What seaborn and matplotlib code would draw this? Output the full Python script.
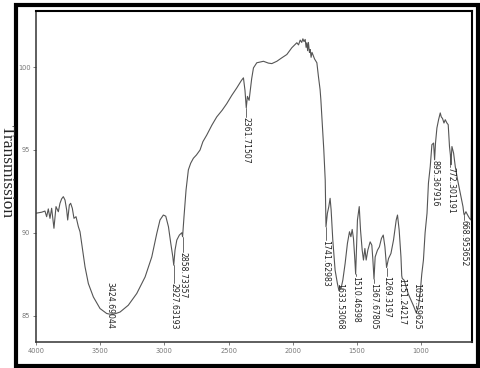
import pandas as pd
import seaborn as sns
import matplotlib.pyplot as plt
from matplotlib.patches import Rectangle

# FTIR spectrum (wavenumber, % transmission)
wavenumber = [
    4000, 3956, 3930, 3917, 3904, 3891, 3878, 3860, 3844, 3826, 3813, 3800, 3787,
    3774, 3761, 3753, 3740, 3730, 3717, 3704, 3688, 3670, 3657, 3644, 3618, 3592,
    3553, 3501, 3449, 3424, 3397, 3345, 3281, 3215, 3150, 3098, 3059, 3034, 3008,
    2989, 2968, 2950, 2934, 2927, 2917, 2903, 2883, 2864, 2858, 2847, 2831, 2813,
    2795, 2774, 2750, 2722, 2700, 2670, 2630, 2592, 2550, 2514, 2475, 2436, 2400,
    2384, 2372, 2362, 2353, 2340, 2320, 2306, 2280, 2228, 2190, 2163, 2124, 2098,
    2085, 2046, 2007, 1968, 1955, 1942, 1930, 1921, 1912, 1903, 1896, 1890, 1884,
    1878, 1870, 1864, 1857, 1850, 1839, 1830, 1812, 1800, 1787, 1781, 1770, 1758,
    1747, 1741, 1730, 1719, 1709, 1701, 1688, 1670, 1652, 1640, 1633, 1625, 1610,
    1592, 1574, 1558, 1547, 1537, 1527, 1518, 1510, 1496, 1482, 1472, 1459, 1449,
    1438, 1428, 1415, 1397, 1384, 1376, 1367, 1358, 1340, 1325, 1309, 1295, 1282,
    1269, 1254, 1235, 1215, 1194, 1184, 1171, 1157, 1151, 1147, 1132, 1100, 1060,
    1045, 1037, 1020, 1008, 995, 982, 969, 954, 943, 929, 916, 903, 895, 888, 877,
    864, 851, 843, 833, 822, 812, 799, 789, 779, 772, 768, 760, 747, 734, 716, 695,
    674, 668, 664, 651, 640, 623, 612, 605,
]
transmission = [
    91.18, 91.24, 91.31, 90.97, 91.44, 90.87, 91.48, 90.27, 91.58, 91.27, 91.78, 92.05, 92.18,
    91.98, 91.38, 90.77, 91.68, 91.78, 91.48, 90.87, 90.97, 90.37, 90.06, 89.36, 87.94, 86.93,
    86.12, 85.42, 85.12, 85.08, 85.07, 85.21, 85.62, 86.33, 87.33, 88.54, 89.96, 90.77, 91.07,
    91.0, 90.36, 89.36, 88.54, 88.04, 88.95, 89.56, 89.86, 90.0, 89.76, 90.97, 92.59, 93.8,
    94.2, 94.5, 94.7, 95.0, 95.5, 95.9, 96.5, 97.0, 97.4, 97.8, 98.3, 98.75, 99.2,
    99.36, 98.6, 97.55, 98.24, 98.0, 99.3, 99.96, 100.27, 100.36, 100.25, 100.22, 100.36, 100.5,
    100.57, 100.77, 101.18, 101.48, 101.35, 101.64, 101.5, 101.72, 101.55, 101.68, 101.2, 101.48, 101.0,
    101.5, 100.9, 101.07, 100.6, 100.9, 100.67, 100.5, 100.27, 99.45, 98.65, 98.04, 96.6, 95.0,
    93.18, 90.36, 91.18, 91.58, 92.08, 91.38, 89.56, 87.74, 86.93, 86.5, 86.73, 86.6, 87.13,
    88.14, 89.36, 90.06, 89.76, 90.2, 89.66, 88.6, 87.5, 90.77, 91.58, 90.16, 88.95, 88.35,
    89.05, 88.35, 88.95, 89.45, 89.25, 88.4, 87.2, 88.54, 88.95, 89.15, 89.66, 89.86, 89.15,
    87.9, 88.44, 88.75, 89.56, 90.77, 91.07, 90.16, 88.54, 87.4, 87.24, 87.13, 86.3, 85.6,
    85.3, 85.15, 85.6, 86.3, 87.5, 88.35, 90.0, 91.18, 93.0, 94.0, 95.32, 95.42, 94.41, 95.42, 96.33,
    96.83, 97.24, 97.0, 96.9, 96.63, 96.83, 96.63, 96.53, 95.21, 94.7, 94.1, 95.21, 94.81, 94.0, 93.2, 92.39,
    91.58, 91.2, 91.07, 91.27, 91.1, 90.87, 90.77, 98.8,
]

# labelled peaks
peak_wn = [3424, 2927, 2858, 2361, 1741, 1633, 1510, 1367, 1269, 1151, 1037, 895, 772, 668]
peak_labels = [
    "3424.69044", "2927.63193", "2858.73357", "2361.71507", "1741.62983",
    "1633.53068", "1510.46398", "1367.67805", "1269.3197", "1151.24217",
    "1037.59625", "895.367916", "772.301191", "668.953652",
]
peak_t = [85.08, 88.04, 89.76, 97.55, 90.36, 86.73, 87.5, 87.2, 87.9, 87.24, 85.15, 94.41, 94.1, 91.07]
# top of each rotated label (annotation layout)
label_top = [87.04, 86.98, 88.86, 96.99, 89.56, 86.98, 87.38, 86.98, 87.38, 87.24, 86.98, 94.41, 94.0, 90.77]

df = pd.DataFrame({"wavenumber": wavenumber, "transmission": transmission})

sns.set_style("white")
fig = plt.figure(figsize=(4.81, 3.68), dpi=100)
ax = fig.add_axes([0.0748, 0.0707, 0.9064, 0.8995])

sns.lineplot(data=df, x="wavenumber", y="transmission", sort=False,
             color="#555555", linewidth=0.8, ax=ax)

for wn, t, lab, top in zip(peak_wn, peak_t, peak_labels, label_top):
    if top < t:
        ax.plot([wn, wn], [t, top], color="#555555", linewidth=0.6)
    ax.text(wn, top, lab, rotation=270, ha="center", va="top",
            fontsize=5.6, color="#222222")

ax.set_xlim(4000, 604)
ax.set_ylim(83.4, 103.4)
ax.set_xticks([4000, 3500, 3000, 2500, 2000, 1500, 1000])
ax.set_yticks([85, 90, 95, 100])
ax.set_xlabel("")
ax.set_ylabel("")
ax.tick_params(axis="both", labelsize=4.8, labelcolor="#777777", color="#666666",
               length=2, width=0.6, direction="out", pad=2)
ax.tick_params(left=True, bottom=True)
for side in ["left", "bottom"]:
    ax.spines[side].set_color("#333333")
    ax.spines[side].set_linewidth(1.1)
for side in ["top", "right"]:
    ax.spines[side].set_color("black")
    ax.spines[side].set_linewidth(1.5)

fig.text(0.014, 0.535, "Transmission", rotation=270, ha="center", va="center",
         fontsize=12.5, family="Liberation Serif")

# thick outer frame around the whole chart
fig.patches.append(Rectangle((0.033, 0.0054), 0.96, 0.9823, transform=fig.transFigure,
                             fill=False, edgecolor="black", linewidth=3.0))

fig.savefig("out.png", dpi=100)
